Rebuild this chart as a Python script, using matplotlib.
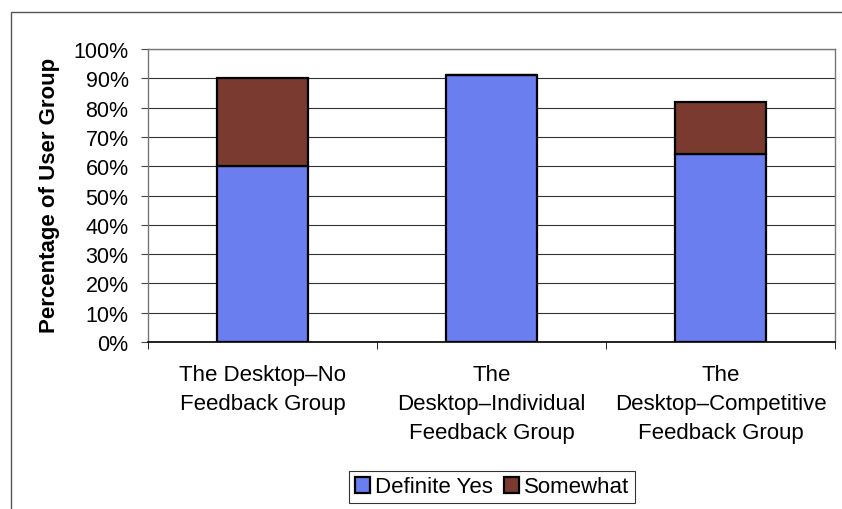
import matplotlib.pyplot as plt
from matplotlib.patches import Rectangle
from matplotlib.ticker import PercentFormatter, MultipleLocator, FixedLocator

plt.rcParams['font.family'] = ['Liberation Sans', 'DejaVu Sans']

groups = ["The Desktop\u2013No\nFeedback Group",
          "The\nDesktop\u2013Individual\nFeedback Group",
          "The\nDesktop\u2013Competitive\nFeedback Group"]
definite_yes = [60, 91, 64]
somewhat = [30, 0, 18]

blue = '#6b7ef0'
brown = '#7a3a2f'

fig = plt.figure(figsize=(8.42, 5.10), dpi=100)
fig.patches.append(Rectangle((11 / 842, -0.1), 1.0, 1 - 13 / 510 + 0.1,
                             transform=fig.transFigure, fill=False,
                             edgecolor='#555555', linewidth=1.0))

ax = fig.add_axes([148 / 842, 167 / 510, 687 / 842, 293 / 510])

x = range(len(groups))
ax.bar(x, definite_yes, width=0.4, color=blue, edgecolor='black',
       linewidth=1.6, label='Definite Yes', zorder=3)
ax.bar(x, somewhat, width=0.4, bottom=definite_yes, color=brown,
       edgecolor='black', linewidth=1.6, label='Somewhat', zorder=3)

ax.set_xlim(-0.5, 2.5)
ax.set_ylim(0, 100)
ax.yaxis.set_major_locator(MultipleLocator(10))
ax.yaxis.set_major_formatter(PercentFormatter(decimals=0))
ax.grid(axis='y', color='#333333', linewidth=0.8, zorder=0)

ax.set_xticks(list(x))
ax.set_xticklabels(groups, fontsize=16, linespacing=1.5)
ax.xaxis.set_minor_locator(FixedLocator([-0.5, 0.5, 1.5, 2.5]))
ax.tick_params(axis='x', which='major', length=0, pad=16)
ax.tick_params(axis='x', which='minor', length=5, color='black')
ax.tick_params(axis='y', labelsize=15.5, length=5, color='#444444', pad=9)

for side in ['left', 'top', 'right']:
    ax.spines[side].set_color('#777777')
    ax.spines[side].set_linewidth(1.0)
ax.spines['bottom'].set_color('black')
ax.spines['bottom'].set_linewidth(1.2)

ax.set_ylabel("Percentage of User Group", fontsize=16, fontweight='bold')
ax.yaxis.set_label_coords(-(148 - 60) / 687, (343 - 195) / 293)

leg = fig.legend(loc='center', bbox_to_anchor=(492 / 842, 1 - 488 / 510),
                 ncol=2, fontsize=16, frameon=True, fancybox=False,
                 edgecolor='black', handlelength=0.7, handleheight=0.7,
                 handletextpad=0.2, columnspacing=0.5, borderpad=0.25,
                 borderaxespad=0)
leg.get_frame().set_linewidth(0.8)

fig.savefig('out.png', dpi=100)
